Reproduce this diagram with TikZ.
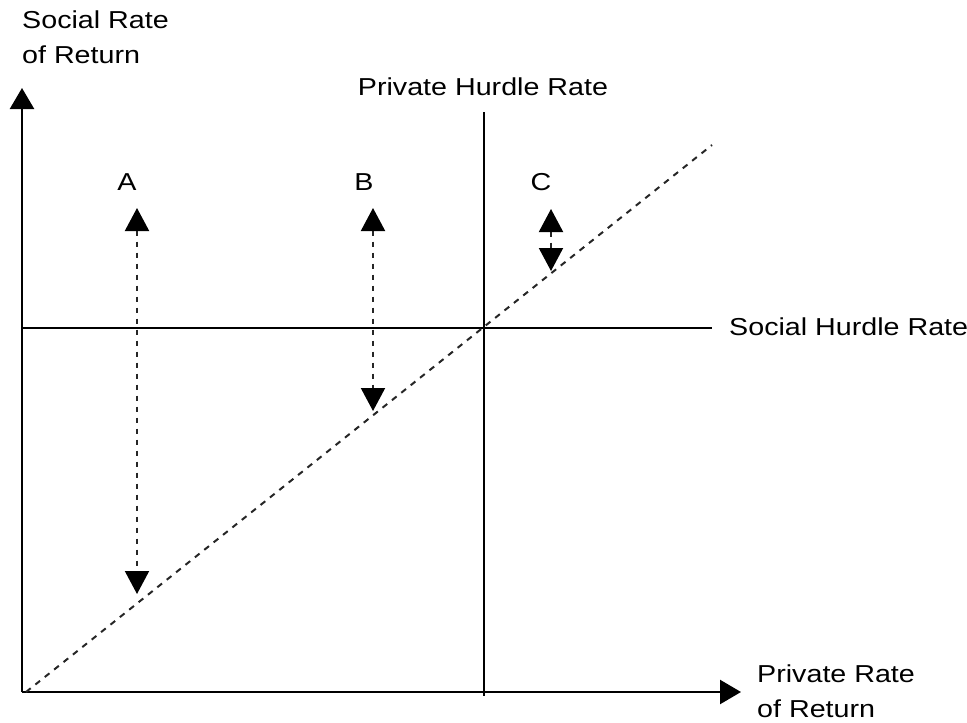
\documentclass[tikz,border=0pt]{standalone}
\usepackage{fontspec}
\setmainfont[FakeStretch=1.17]{Liberation Sans}
\usetikzlibrary{arrows.meta}
\begin{document}
\begin{tikzpicture}[x=1pt,y=-1pt,
  lbl/.style={font=\fontsize{24.5}{35}\selectfont, inner sep=0pt, align=left},
  axis/.style={line width=2.4pt, -{Triangle[width=24pt,length=21pt]}},
  hurdle/.style={line width=2pt},
  diag/.style={line width=2pt, dash pattern=on 6pt off 6pt, black!85},
  gap/.style={line width=2pt, dash pattern=on 5pt off 6pt, black!85,
     {Triangle[width=24pt,length=23pt,color=black]}-{Triangle[width=24pt,length=23pt,color=black]}}
]
\useasboundingbox (0,0) rectangle (967,723);
% axes
\coordinate (O) at (22,692);
\coordinate (ytip) at (22,88);
\coordinate (xtip) at (741,692);
\draw[axis] (O) -- (ytip);
\draw[axis] (O) -- (xtip);
% hurdle lines
\coordinate (ph1) at (484,112);
\coordinate (ph2) at (484,696);
\draw[hurdle] (ph1) -- (ph2);
\coordinate (sh1) at (22,328);
\coordinate (sh2) at (712,328);
\draw[hurdle] (sh1) -- (sh2);
% diagonal
\coordinate (d1) at (26,692);
\coordinate (d2) at (712,145);
\draw[diag] (d1) -- (d2);
% gaps
\coordinate (a1) at (137,208);
\coordinate (a2) at (137,594);
\draw[gap] (a1) -- (a2);
\coordinate (b1) at (373,208);
\coordinate (b2) at (373,411);
\draw[gap] (b1) -- (b2);
\coordinate (c1) at (551,209);
\coordinate (c2) at (551,271);
\draw[gap] (c1) -- (c2);
% labels
\node[lbl, anchor=north west] (ylab) at (22,11) {Social Rate\\of Return};
\node[lbl, anchor=north west] (xlab) at (757,665) {Private Rate\\of Return};
\node[lbl, anchor=base] (phlab) at (483,95) {Private Hurdle Rate};
\node[lbl, anchor=base west] (shlab) at (729,335) {Social Hurdle Rate};
\node[lbl, anchor=base] (A) at (127,190) {A};
\node[lbl, anchor=base] (B) at (364,190) {B};
\node[lbl, anchor=base] (C) at (541,190) {C};
\end{tikzpicture}
\end{document}
